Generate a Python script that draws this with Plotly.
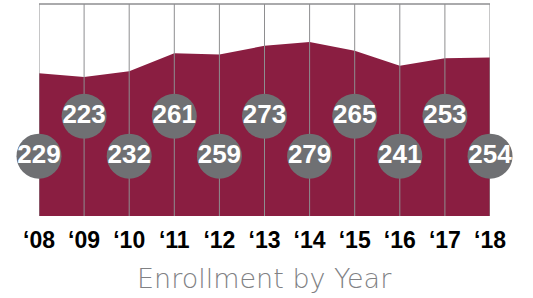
import plotly.graph_objects as go

years = [2008, 2009, 2010, 2011, 2012, 2013, 2014, 2015, 2016, 2017, 2018]
enrollment = [229, 223, 232, 261, 259, 273, 279, 265, 241, 253, 254]
tick_labels = ["\u201808", "\u201809", "\u201810", "\u201811", "\u201812", "\u201813",
               "\u201814", "\u201815", "\u201816", "\u201817", "\u201818"]
title_text = "Enrollment by Year"

MAROON = "#8A1E41"
GRAY = "#6F7073"
GRID = "#8E8E90"
BADGE_FONT = "Liberation Sans Narrow, Liberation Sans, Arial, sans-serif"
Y_MAX = 340
LOW_Y, HIGH_Y = 96, 160

fig = go.Figure()

# area
fig.add_trace(go.Scatter(x=years, y=enrollment, mode="lines", fill="tozeroy",
                         fillcolor=MAROON, line=dict(color=MAROON, width=0),
                         hoverinfo="skip", showlegend=False))

# vertical grid lines drawn over the area
gx, gy = [], []
for yr in years:
    gx += [yr, yr, None]
    gy += [0, Y_MAX, None]
fig.add_trace(go.Scatter(x=gx, y=gy, mode="lines", line=dict(color=GRID, width=1),
                         hoverinfo="skip", showlegend=False))

# badges
badge_y = [LOW_Y if i % 2 == 0 else HIGH_Y for i in range(len(years))]
fig.add_trace(go.Scatter(x=years, y=badge_y, mode="markers+text",
                         marker=dict(size=45, color=GRAY, line=dict(width=0)),
                         text=[str(v) for v in enrollment], textposition="middle center",
                         textfont=dict(family=BADGE_FONT, size=26, color="white", weight="bold"),
                         cliponaxis=False, hoverinfo="skip", showlegend=False))

fig.update_layout(
    width=533, height=298,
    margin=dict(l=39, r=43, t=4, b=82),
    paper_bgcolor="white", plot_bgcolor="white",
    xaxis=dict(range=[years[0], years[-1]], tickvals=years, ticktext=tick_labels,
               showgrid=False, zeroline=False, showline=False, automargin=False,
               ticks="outside", ticklen=3, tickcolor="rgba(0,0,0,0)",
               tickfont=dict(family=BADGE_FONT, size=23, color="black", weight="bold")),
    yaxis=dict(range=[0, Y_MAX], visible=False, fixedrange=True),
    shapes=[dict(type="line", xref="paper", yref="paper", x0=0, x1=1, y0=1, y1=1,
                 line=dict(color=GRID, width=1.5))],
    annotations=[dict(text=title_text, xref="paper", yref="paper", x=0.5, y=-0.21,
                      yanchor="top", showarrow=False,
                      font=dict(family="DejaVu Sans, sans-serif", size=27, color="#808184",
                                weight=200))],
)

fig.write_html("out.html", config={"displayModeBar": False},
               post_script="document.body.style.margin='0';document.body.style.padding='0';")
